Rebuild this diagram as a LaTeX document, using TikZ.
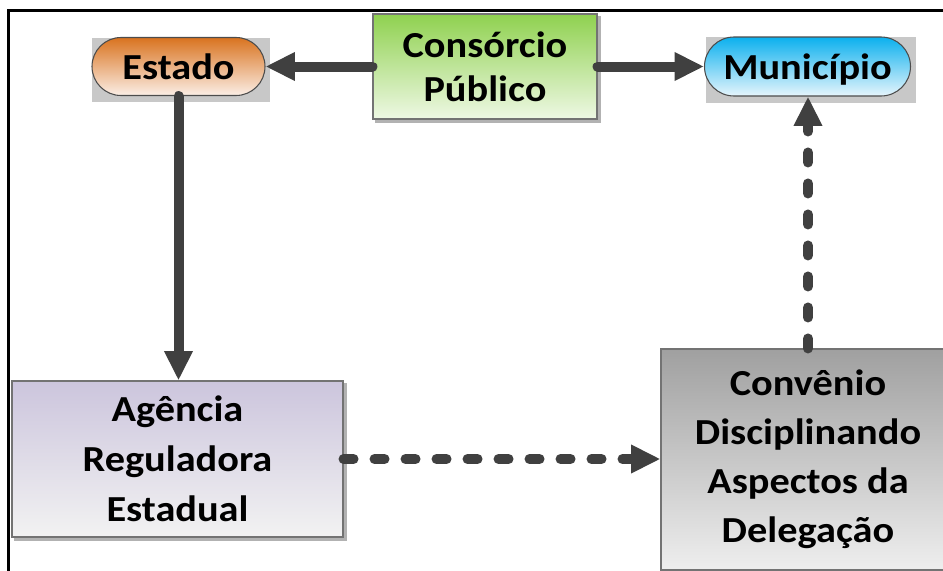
\documentclass[tikz,border=0pt]{standalone}
\usepackage{fontspec}
\setmainfont{Carlito}[FakeStretch=1.1]
\usetikzlibrary{shapes.misc,positioning,calc,arrows.meta,backgrounds}
\definecolor{arrgray}{HTML}{404040}
\definecolor{shadowgray}{HTML}{C8C8C8}
\definecolor{estadotop}{HTML}{D9731F}
\definecolor{estadobot}{HTML}{FBEEE6}
\definecolor{munitop}{HTML}{0BB0EE}
\definecolor{munibot}{HTML}{E6F5FC}
\definecolor{constop}{HTML}{8FD14F}
\definecolor{consbot}{HTML}{EEF8E4}
\definecolor{agtop}{HTML}{CCC5DD}
\definecolor{agbot}{HTML}{F2F2F2}
\definecolor{convtop}{HTML}{A0A0A0}
\definecolor{convbot}{HTML}{EEEEEE}
\begin{document}
\begin{tikzpicture}[x=0.75pt,y=-0.75pt,
    txt/.style={font=\bfseries\fontsize{27.5}{37.5}\selectfont, align=center, text=black, inner sep=0pt},
    pill/.style={txt, rounded rectangle, draw=black!70, line width=0.8pt, text depth=0pt},
    box/.style={txt, rectangle, draw=black!55, line width=0.8pt},
    arr/.style={draw=arrgray, line width=7.5pt, line cap=round, -{Triangle[length=22pt,width=20pt]}},
    dasharr/.style={arr, dash pattern=on 7.5pt off 15.75pt}]
        \useasboundingbox (0,0) rectangle (943,571);
        \draw[line width=2.25pt] (8.5,571) -- (8.5,10.5) -- (943,10.5);

        \node[pill, minimum width=129.75pt, minimum height=43.5pt, top color=estadotop, bottom color=estadobot] (estado) at (178.5,66.5) {Estado};
        \node[box, minimum width=168pt, minimum height=78.75pt, top color=constop, bottom color=consbot, font=\bfseries\fontsize{27.5}{33}\selectfont] (consorcio) at (485,66.5) {Consórcio\\Público};
        \node[pill, minimum width=154.5pt, minimum height=44.25pt, top color=munitop, bottom color=munibot] (municipio) at (807.5,66.5) {Município};
        \node[box, minimum width=248.25pt, minimum height=117pt, top color=agtop, bottom color=agbot] (agencia) at (177.5,459) {Agência\\Reguladora\\Estadual};
        \node[box, minimum width=220.5pt, minimum height=165.75pt, top color=convtop, bottom color=convbot, font=\bfseries\fontsize{27.5}{36.75}\selectfont] (convenio) at (808,459.5) {Convênio\\Disciplinando\\Aspectos da\\Delegação};

        \begin{scope}[on background layer]
        \fill[shadowgray] ($(estado.west |- estado.north)+(1,1)$) rectangle ($(estado.east |- estado.south)+(4,6)$);
        \fill[shadowgray] ($(municipio.west |- municipio.north)+(2,1)$) rectangle ($(municipio.east |- municipio.south)+(5,6)$);
        \foreach \n in {consorcio,agencia,convenio}
            \fill[black!30] ($(\n.north west)+(3,3)$) rectangle ($(\n.south east)+(3,3)$);
        \end{scope}

        \draw[arr] (consorcio.west) -- (estado.east);
        \draw[arr] (consorcio.east) -- (municipio.west);
        \draw[arr] (estado.south) -- (estado.south |- agencia.north);
        \draw[dasharr] (agencia.east) -- (convenio.west |- agencia.east);
        \draw[dasharr] (convenio.north) -- (convenio.north |- municipio.south);
\end{tikzpicture}
\end{document}
